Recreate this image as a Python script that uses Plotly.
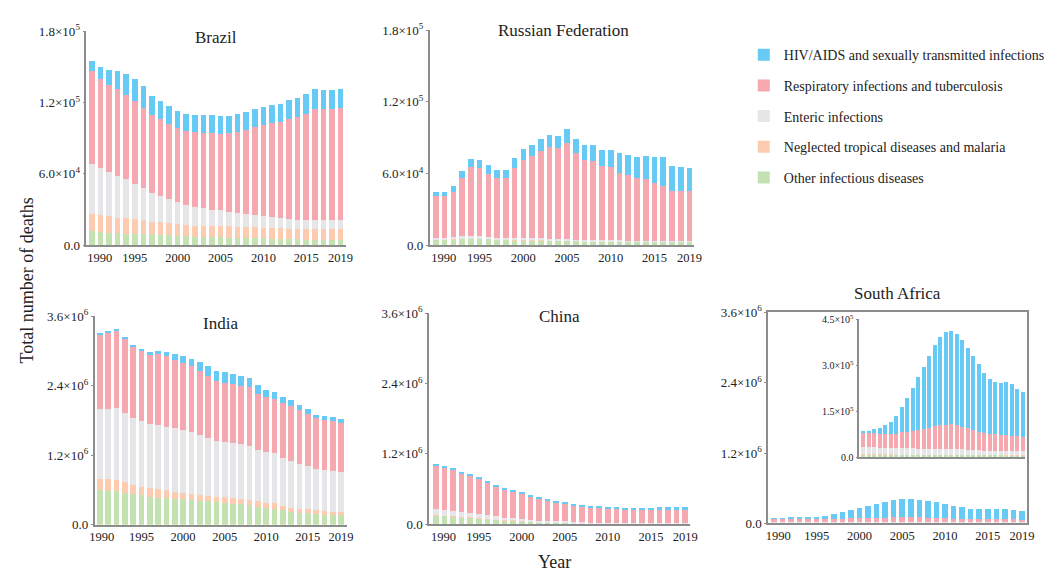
import plotly.graph_objects as go

# ---------------- data (deaths, in thousands) ----------------
YEARS = list(range(1990, 2020))
TICK_YEARS = [1990, 1995, 2000, 2005, 2010, 2015, 2019]
CAUSES = [
    "Other infectious diseases",
    "Neglected tropical diseases and malaria",
    "Enteric infections",
    "Respiratory infections and tuberculosis",
    "HIV/AIDS and sexually transmitted infections",
]
COUNTRIES = ["Brazil", "Russian Federation", "India", "China", "South Africa"]

BR_HIV = [8.7, 10.1, 12.9, 15.2, 16.9, 18.8, 18.6, 15.8, 15.0, 15.0, 14.8, 15.0, 15.0, 15.5, 15.2,
          15.5, 15.0, 15.3, 15.0, 15.2, 15.8, 15.6, 15.8, 16.1, 16.1, 16.4, 16.7, 16.3, 16.3, 15.8]
BR_RESP = [78.0, 74.7, 72.8, 73.1, 71.4, 69.6, 67.9, 65.7, 64.4, 63.0, 62.1, 61.9, 62.4, 63.0, 64.4,
           64.1, 66.0, 67.6, 70.9, 73.9, 76.4, 79.0, 80.8, 83.7, 86.2, 89.2, 93.0, 92.8, 92.8, 94.3]
BR_ENT = [42.5, 39.8, 37.1, 34.9, 32.5, 29.4, 26.7, 24.0, 22.6, 20.5, 18.3, 16.9, 16.4, 15.6, 14.2,
          13.4, 12.3, 11.8, 10.9, 10.4, 9.8, 9.0, 8.4, 8.2, 7.9, 7.6, 7.6, 7.6, 7.6, 7.7]
BR_NTD = [14.5, 14.2, 13.9, 12.8, 13.1, 12.9, 11.7, 10.9, 10.4, 10.3, 10.1, 9.5, 9.0, 9.0, 9.3,
          9.3, 9.5, 9.2, 9.3, 9.1, 9.0, 9.0, 8.7, 8.7, 8.7, 9.3, 9.3, 9.3, 9.5, 9.2]
BR_OTH = [11.7, 11.2, 10.6, 10.4, 9.8, 9.5, 9.3, 9.0, 8.7, 8.2, 7.9, 7.4, 7.1, 6.8, 6.5,
          6.5, 6.3, 6.3, 6.0, 5.9, 5.7, 5.5, 5.5, 5.2, 4.9, 4.6, 4.6, 4.6, 4.4, 4.4]

RU_HIV = [3.5, 4.0, 4.5, 5.4, 6.7, 7.0, 7.5, 7.3, 7.0, 8.6, 9.2, 9.5, 9.8, 10.3, 10.5,
          11.6, 11.4, 12.4, 13.0, 13.8, 14.8, 16.2, 16.7, 17.6, 19.2, 22.1, 23.7, 21.1, 20.0, 19.2]
RU_RESP = [34.9, 34.6, 38.1, 49.1, 57.6, 56.8, 52.9, 49.7, 50.0, 58.6, 65.3, 68.8, 73.1, 76.9, 75.9,
           80.5, 72.6, 67.2, 66.6, 61.8, 61.0, 56.7, 54.6, 52.6, 51.8, 48.4, 46.5, 41.9, 41.9, 41.9]
RU_ENT = [1.5, 1.5, 1.4, 1.6, 1.6, 1.6, 1.5, 1.4, 1.4, 1.4, 1.4, 1.4, 1.4, 1.3, 1.2,
          1.2, 0.9, 0.7, 0.7, 0.7, 0.7, 0.7, 0.6, 0.6, 0.6, 0.5, 0.4, 0.4, 0.4, 0.4]
RU_NTD = [0.1, 0.1, 0.1, 0.1, 0.1, 0.1, 0.1, 0.1, 0.1, 0.1, 0.1, 0.1, 0.1, 0.1, 0.1,
          0.1, 0.1, 0.1, 0.1, 0.1, 0.1, 0.1, 0.1, 0.1, 0.1, 0.1, 0.1, 0.1, 0.1, 0.1]
RU_OTH = [4.3, 4.6, 5.0, 5.6, 5.8, 5.8, 5.2, 4.7, 4.4, 4.2, 4.2, 4.2, 4.2, 4.0, 3.8,
          3.8, 3.6, 3.3, 3.3, 3.3, 3.3, 3.3, 3.1, 3.1, 3.1, 2.9, 2.7, 2.7, 2.7, 2.7]

IN_HIV = [28, 16, 16, 22, 27, 28, 39, 56, 78, 100, 117, 134, 150, 162, 173,
          189, 184, 178, 167, 151, 129, 123, 106, 101, 89, 78, 67, 67, 56, 61]
IN_RESP = [1295, 1317, 1340, 1284, 1234, 1222, 1205, 1228, 1216, 1189, 1172, 1133, 1105, 1077, 1027,
           1022, 1016, 1010, 1010, 971, 948, 926, 943, 943, 932, 904, 876, 859, 865, 848]
IN_ENT = [1194, 1212, 1228, 1194, 1150, 1127, 1105, 1105, 1100, 1099, 1083, 1077, 1044, 994, 965,
          960, 949, 944, 932, 887, 876, 877, 832, 809, 765, 737, 714, 720, 709, 698]
IN_NTD = [206, 212, 206, 178, 161, 151, 151, 151, 139, 112, 101, 95, 95, 100, 101,
          100, 100, 94, 95, 89, 84, 89, 72, 73, 73, 78, 67, 56, 56, 50]
IN_OTH = [592, 580, 575, 553, 525, 508, 480, 463, 458, 452, 446, 430, 413, 402, 385,
          374, 363, 352, 335, 313, 296, 279, 257, 223, 206, 195, 179, 173, 167, 162]

CN_HIV = [16, 17, 17, 17, 17, 23, 23, 22, 23, 23, 22, 23, 22, 23, 28,
          28, 28, 28, 28, 28, 28, 28, 28, 33, 34, 33, 39, 39, 39, 39]
CN_RESP = [746, 729, 707, 662, 633, 594, 549, 510, 482, 454, 432, 409, 376, 348, 325,
           297, 280, 264, 261, 251, 242, 236, 232, 227, 221, 227, 227, 227, 227, 227]
CN_ENT = [101, 95, 89, 84, 73, 73, 67, 57, 45, 39, 34, 28, 22, 22, 23,
          23, 17, 11, 10, 9, 8, 8, 7, 7, 7, 7, 7, 7, 7, 7]
CN_NTD = [5, 5, 5, 5, 5, 5, 5, 4, 4, 4, 4, 3, 3, 3, 2,
          2, 2, 2, 2, 2, 2, 2, 2, 2, 2, 2, 2, 2, 2, 2]
CN_OTH = [152, 141, 130, 118, 113, 96, 85, 74, 63, 58, 46, 36, 31, 25, 20,
          20, 15, 15, 13, 13, 12, 12, 11, 11, 11, 11, 11, 11, 11, 11]

ZA_HIV = [6.3, 7.4, 11.6, 18.0, 26.4, 40.2, 58.1, 82.4, 110.9, 140.4, 172.1, 203.8, 235.5, 266.1, 288.3,
          303.1, 306.2, 298.8, 284.1, 262.9, 242.9, 219.7, 195.4, 177.4, 170.0, 170.0, 173.2, 170.0, 155.2, 145.8]
ZA_RESP = [47.5, 47.5, 48.6, 44.8, 46.5, 45.9, 47.5, 51.7, 54.4, 56.0, 61.8, 63.9, 68.6, 72.8, 77.5,
           78.7, 80.3, 77.6, 72.9, 69.7, 65.5, 61.2, 58.1, 56.5, 54.9, 52.8, 52.3, 50.7, 48.6, 47.5]
ZA_ENT = [22.9, 22.9, 22.9, 22.4, 21.9, 21.4, 21.0, 21.0, 20.5, 20.1, 19.7, 19.7, 19.3, 19.4, 19.0,
          19.1, 18.7, 18.3, 17.8, 16.9, 15.9, 15.0, 14.0, 13.6, 13.2, 13.3, 12.8, 12.4, 12.5, 12.6]
ZA_NTD = [0.8, 0.8, 0.8, 0.8, 0.8, 0.8, 0.8, 0.8, 0.8, 0.8, 0.8, 0.8, 0.8, 0.8, 0.8,
          0.8, 0.8, 0.8, 0.8, 0.8, 0.8, 0.8, 0.8, 0.8, 0.8, 0.8, 0.8, 0.8, 0.8, 0.8]
ZA_OTH = [8.0, 8.0, 8.0, 8.0, 7.9, 7.9, 7.8, 7.8, 7.7, 7.6, 7.5, 7.5, 7.4, 7.3, 7.2,
          7.0, 6.9, 6.8, 6.7, 6.6, 6.5, 6.4, 6.3, 6.2, 6.1, 6.0, 5.9, 5.8, 5.7, 5.6]

Y_TICKS_SMALL = [0, 60000, 120000, 180000]
Y_TEXT_SMALL = ["0.0", "6.0×10<sup>4</sup>", "1.2×10<sup>5</sup>", "1.8×10<sup>5</sup>"]
Y_TICKS_BIG = [0, 1200000, 2400000, 3600000]
Y_TEXT_BIG = ["0.0", "1.2×10<sup>6</sup>", "2.4×10<sup>6</sup>", "3.6×10<sup>6</sup>"]
Y_TICKS_INSET = [0, 150000, 300000, 450000]
Y_TEXT_INSET = ["0.0", "1.5×10<sup>5</sup>", "3.0×10<sup>5</sup>", "4.5×10<sup>5</sup>"]

DATA = {
    "Brazil": [BR_OTH, BR_NTD, BR_ENT, BR_RESP, BR_HIV],
    "Russian Federation": [RU_OTH, RU_NTD, RU_ENT, RU_RESP, RU_HIV],
    "India": [IN_OTH, IN_NTD, IN_ENT, IN_RESP, IN_HIV],
    "China": [CN_OTH, CN_NTD, CN_ENT, CN_RESP, CN_HIV],
    "South Africa": [ZA_OTH, ZA_NTD, ZA_ENT, ZA_RESP, ZA_HIV],
}

# ---------------- style ----------------
COLORS = ["#c4e1b1", "#fccbb0", "#e6e6e8", "#f5a8b0", "#66caf4"]
FONT = "Liberation Serif, Times New Roman, serif"
TXT = "#222222"
AX = "#8c8c8c"
W, H = 1055, 579


def px_x(p):
    return p / W


def px_y(p):
    return 1 - p / H


# panel geometry (pixels): left/right, bottom/top, x-range, y ticks, first-tick offset, bar width
PANELS = [
    dict(name="Brazil", xd=(82.3, 345), yd=(243.3, 23), xr=(1989.34, 2019.61),
         yt=(Y_TICKS_SMALL, Y_TEXT_SMALL), first=0.9, bw=0.66, mirror=False,
         title=(213.7, 29)),
    dict(name="Russian Federation", xd=(430, 698), yd=(243.3, 21.7), xr=(1989.30, 2019.56),
         yt=(Y_TICKS_SMALL, Y_TEXT_SMALL), first=0.9, bw=0.64, mirror=False,
         title=(565.7, 22)),
    dict(name="India", xd=(90.7, 346), yd=(531.3, 316.7), xr=(1989.35, 2019.68),
         yt=(Y_TICKS_BIG, Y_TEXT_BIG), first=0.2, bw=0.68, mirror=False,
         title=(218, 324)),
    dict(name="China", xd=(429.3, 694), yd=(530.7, 313.3), xr=(1989.21, 2019.6),
         yt=(Y_TICKS_BIG, Y_TEXT_BIG), first=0.9, bw=0.65, mirror=False,
         title=(561.7, 317)),
    dict(name="South Africa", xd=(772.7, 1035), yd=(530, 312.3), xr=(1989.33, 2019.61),
         yt=(Y_TICKS_BIG, Y_TEXT_BIG), first=0.5, bw=0.65, mirror=True,
         title=(904, 293)),
    dict(name="South Africa", xd=(865, 1033), yd=(461.7, 319.7), xr=(1989.28, 2019.49),
         yt=(Y_TICKS_INSET, Y_TEXT_INSET), first=None, bw=0.75, mirror=False,
         title=None, inset=True),
]

fig = go.Figure()
layout = {}
annotations = []

for i, p in enumerate(PANELS, start=1):
    xa = "x" if i == 1 else f"x{i}"
    ya = "y" if i == 1 else f"y{i}"
    xkey = "xaxis" if i == 1 else f"xaxis{i}"
    ykey = "yaxis" if i == 1 else f"yaxis{i}"
    inset = p.get("inset", False)
    series = DATA[p["name"]]
    for c, (cause, vals) in enumerate(zip(CAUSES, series)):
        fig.add_trace(go.Bar(
            x=YEARS, y=[v * 1000 for v in vals], name=cause,
            marker=dict(color=COLORS[c], line=dict(width=0)),
            width=p["bw"], xaxis=xa, yaxis=ya,
            legendgroup=cause, showlegend=(i == 1),
            legendrank=100 * (len(CAUSES) - c),
            hovertemplate="%{x}: %{y:,.0f}<extra>" + cause + "</extra>",
        ))

    if p["first"] is None:
        xticks = dict(showticklabels=False)
    else:
        tv = [TICK_YEARS[0] + p["first"]] + TICK_YEARS[1:]
        xticks = dict(tickmode="array", tickvals=tv, ticktext=[str(t) for t in TICK_YEARS],
                      showticklabels=True)
    layout[xkey] = dict(
        domain=[px_x(p["xd"][0]), px_x(p["xd"][1])], range=list(p["xr"]),
        anchor=ya, showline=True, linecolor=AX, linewidth=1.5, mirror=p["mirror"],
        showgrid=False, zeroline=False, ticks="", fixedrange=True,
        tickfont=dict(family=FONT, size=12.5, color=TXT), **xticks,
    )
    layout[ykey] = dict(
        domain=[px_y(p["yd"][0]), px_y(p["yd"][1])],
        range=[0, p["yt"][0][-1]], anchor=xa,
        tickmode="array", tickvals=p["yt"][0], ticktext=p["yt"][1],
        showline=True, linecolor=AX, linewidth=1.5, mirror=p["mirror"],
        showgrid=False, zeroline=False, ticks="outside", ticklen=2, tickcolor=AX,
        tickfont=dict(family=FONT, size=10 if inset else 13, color=TXT),
        fixedrange=True,
    )
    if p["title"] is not None:
        annotations.append(dict(
            text=p["name"], x=px_x(p["title"][0]), y=px_y(p["title"][1]),
            xref="paper", yref="paper", showarrow=False,
            xanchor="center", yanchor="middle",
            font=dict(family=FONT, size=17, color=TXT)))

annotations.append(dict(text="Total number of deaths", x=px_x(22), y=px_y(280),
                        xref="paper", yref="paper", showarrow=False, textangle=-90,
                        xanchor="center", yanchor="middle",
                        font=dict(family=FONT, size=18, color=TXT)))
annotations.append(dict(text="Year", x=px_x(556), y=px_y(570),
                        xref="paper", yref="paper", showarrow=False,
                        xanchor="center", yanchor="middle",
                        font=dict(family=FONT, size=18, color=TXT)))

fig.update_layout(
    width=W, height=H, margin=dict(l=0, r=0, t=0, b=0),
    paper_bgcolor="white", plot_bgcolor="rgba(0,0,0,0)",
    barmode="stack", bargap=0.35,
    legend=dict(x=px_x(748), y=px_y(31), xanchor="left", yanchor="top",
                traceorder="grouped", tracegroupgap=9.5,
                font=dict(family=FONT, size=14, color=TXT),
                bgcolor="rgba(0,0,0,0)"),
    annotations=annotations,
    **layout,
)

fig.write_html("out.html")
